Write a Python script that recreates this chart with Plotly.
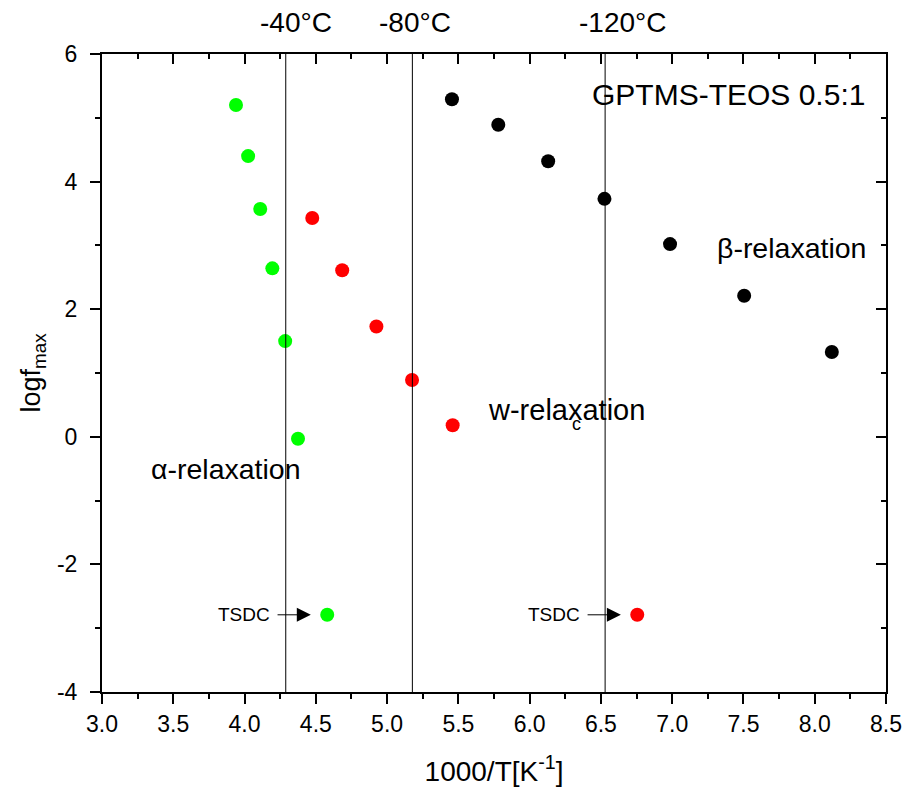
import plotly.graph_objects as go

# ---- data ----
alpha_x = [3.94, 4.025, 4.11, 4.195, 4.285, 4.375]
alpha_y = [5.20, 4.40, 3.57, 2.64, 1.50, -0.03]
alpha_tsdc_x = [4.58]
alpha_tsdc_y = [-2.79]

w_x = [4.475, 4.685, 4.925, 5.175, 5.46]
w_y = [3.43, 2.61, 1.73, 0.89, 0.18]
w_tsdc_x = [6.755]
w_tsdc_y = [-2.79]

beta_x = [5.455, 5.78, 6.13, 6.525, 6.985, 7.505, 8.12]
beta_y = [5.29, 4.89, 4.32, 3.73, 3.02, 2.21, 1.33]

temps_C = [-40, -80, -120]
temp_labels = ["-40°C", "-80°C", "-120°C"]
temp_label_x = [4.36, 5.195, 6.65]

x_ticks = [3.0, 3.5, 4.0, 4.5, 5.0, 5.5, 6.0, 6.5, 7.0, 7.5, 8.0, 8.5]
y_ticks = [-4, -2, 0, 2, 4, 6]

FONT = "Liberation Sans, Arial, sans-serif"

fig = go.Figure()
marker_size = 14
fig.add_trace(go.Scatter(x=alpha_x + alpha_tsdc_x, y=alpha_y + alpha_tsdc_y, mode="markers",
                         marker=dict(color="#00FF00", size=marker_size), showlegend=False))
fig.add_trace(go.Scatter(x=w_x + w_tsdc_x, y=w_y + w_tsdc_y, mode="markers",
                         marker=dict(color="#FF0000", size=marker_size), showlegend=False))
fig.add_trace(go.Scatter(x=beta_x, y=beta_y, mode="markers",
                         marker=dict(color="#000000", size=marker_size), showlegend=False))
# invisible trace for mirrored axes
fig.add_trace(go.Scatter(x=[3.0], y=[-4], xaxis="x2", yaxis="y2", mode="markers",
                         marker=dict(opacity=0), showlegend=False, hoverinfo="skip"))

# vertical temperature lines
for t in temps_C:
    xv = 1000.0 / (t + 273.15)
    fig.add_shape(type="line", xref="x", yref="paper", x0=xv, x1=xv, y0=0, y1=1,
                  line=dict(color="black", width=1))

ann = []
for lab, xl in zip(temp_labels, temp_label_x):
    ann.append(dict(text=lab, x=xl, xref="x", y=1.05, yref="paper", showarrow=False,
                    font=dict(size=28, color="black", family=FONT), xanchor="center", yanchor="middle"))

ann.append(dict(text="GPTMS-TEOS 0.5:1", x=8.37, y=5.36, xref="x", yref="y", showarrow=False,
                xanchor="right", yanchor="middle", font=dict(size=30, color="black", family=FONT)))
ann.append(dict(text="β-relaxation", x=7.84, y=2.96, xref="x", yref="y", showarrow=False,
                xanchor="center", yanchor="middle", font=dict(size=28.5, color="black", family=FONT)))
ann.append(dict(text="w-relaxation", x=6.26, y=0.42, xref="x", yref="y", showarrow=False,
                xanchor="center", yanchor="middle", font=dict(size=29, color="black", family=FONT)))
ann.append(dict(text="c", x=6.33, y=0.20, xref="x", yref="y", showarrow=False,
                xanchor="center", yanchor="middle", font=dict(size=18, color="black", family=FONT)))
ann.append(dict(text="α-relaxation", x=3.87, y=-0.50, xref="x", yref="y", showarrow=False,
                xanchor="center", yanchor="middle", font=dict(size=28.5, color="black", family=FONT)))

# TSDC labels + arrows
for lab_x, tail_x, tip_x, yy in [(4.193, 4.221, 4.465, -2.79), (6.368, 6.396, 6.64, -2.79)]:
    ann.append(dict(text="TSDC", x=lab_x, y=yy, xref="x", yref="y", showarrow=False,
                    xanchor="right", yanchor="middle", font=dict(size=19, color="black", family=FONT)))
    ann.append(dict(text="", x=tip_x, y=yy, xref="x", yref="y", ax=tail_x, ay=yy,
                    axref="x", ayref="y", showarrow=True, arrowhead=2, arrowsize=2.8,
                    arrowwidth=1, arrowcolor="black"))

axis_common = dict(showgrid=False, zeroline=False, linecolor="black", linewidth=2,
                   tickcolor="black", tickwidth=2, automargin=False)

fig.update_layout(
    width=908, height=796,
    margin=dict(l=102, r=22, t=54, b=104),
    plot_bgcolor="white", paper_bgcolor="white",
    font=dict(family=FONT, color="black"),
    annotations=ann,
    xaxis=dict(range=[3.0, 8.5], tickvals=x_ticks, ticktext=[f"{v:.1f}" for v in x_ticks],
               ticks="outside", ticklen=10, showline=True,
               minor=dict(dtick=0.25, tick0=3.0, ticks="outside", ticklen=5, tickcolor="black", tickwidth=2),
               tickfont=dict(size=23, family=FONT),
               title=dict(text="1000/T[K<sup>-1</sup>]", font=dict(size=28, family=FONT), standoff=26),
               **axis_common),
    yaxis=dict(range=[-4, 6], tickvals=y_ticks, ticktext=[str(v) for v in y_ticks],
               ticks="outside", ticklen=10, showline=True,
               minor=dict(dtick=1, tick0=-4, ticks="outside", ticklen=5, tickcolor="black", tickwidth=2),
               tickfont=dict(size=23, family=FONT), ticklabelstandoff=8,
               title=dict(text="logf<sub>max</sub>", font=dict(size=27, family=FONT), standoff=8),
               **axis_common),
    xaxis2=dict(range=[3.0, 8.5], overlaying="x", side="top", tickvals=x_ticks, showticklabels=False,
                ticks="inside", ticklen=10, showline=True,
                minor=dict(dtick=0.25, tick0=3.0, ticks="inside", ticklen=5, tickcolor="black", tickwidth=2),
                **axis_common),
    yaxis2=dict(range=[-4, 6], overlaying="y", side="right", tickvals=y_ticks, showticklabels=False,
                ticks="inside", ticklen=10, showline=True,
                minor=dict(dtick=1, tick0=-4, ticks="inside", ticklen=5, tickcolor="black", tickwidth=2),
                **axis_common),
)

fig.write_html("out.html")
